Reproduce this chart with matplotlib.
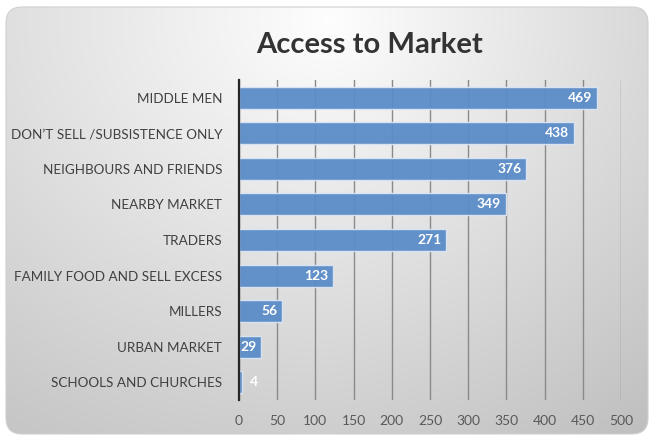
import numpy as np
import matplotlib.pyplot as plt
from matplotlib.patches import FancyBboxPatch

categories = [
    "MIDDLE MEN",
    "DON\u2019T SELL /SUBSISTENCE ONLY",
    "NEIGHBOURS AND FRIENDS",
    "NEARBY MARKET",
    "TRADERS",
    "FAMILY FOOD AND SELL EXCESS",
    "MILLERS",
    "URBAN MARKET",
    "SCHOOLS AND CHURCHES",
]
values = [469, 438, 376, 349, 271, 123, 56, 29, 4]
x_ticks = [0, 50, 100, 150, 200, 250, 300, 350, 400, 450, 500]
title = "Access to Market"

plt.rcParams['font.family'] = ['Lato', 'DejaVu Sans']

fig = plt.figure(figsize=(6.5, 4.38), dpi=100)
fig.patch.set_facecolor('white')

# Rounded panel: lightest near the top centre, darkening toward the edges
bg = fig.add_axes([0, 0, 1, 1], zorder=0)
bg.set_xlim(0, 650)
bg.set_ylim(438, 0)
bg.axis('off')
yy, xx = np.mgrid[0:438, 0:650]
dx = (xx - 330) / 650.0
dy = (yy - 20) / 438.0
d = np.sqrt((dx * 1.1) ** 2 + (dy * 0.9) ** 2) + 0.25 * np.clip(dx, 0, None)
grad = np.clip(0.995 - 0.22 * d, 0.74, 1.0)
img = np.dstack([grad, grad, grad])
panel = FancyBboxPatch((6, 7), 642, 427, boxstyle="round,pad=0,rounding_size=16",
                       facecolor='none', edgecolor='#d0d0d0', linewidth=0.8,
                       transform=bg.transData)
bg.add_patch(panel)
im = bg.imshow(img, extent=(0, 650, 438, 0), aspect='auto', zorder=0)
im.set_clip_path(panel)

ax = fig.add_axes([239 / 650, 1 - 400 / 438, (621 - 239) / 650, (400 - 80) / 438], zorder=1)
ax.patch.set_alpha(0)

y = np.arange(len(categories))
ax.barh(y, values, height=0.62, color='#5b8cc8', edgecolor='#dbe6f3',
        linewidth=1.0, alpha=0.95, zorder=3)
ax.set_ylim(len(categories) - 0.5, -0.5)
ax.set_xlim(0, 500)
ax.set_xticks(x_ticks)
ax.set_yticks(y)
ax.set_yticklabels(categories, fontsize=9.7, color='#404040')
ax.tick_params(axis='y', length=0, pad=12)
ax.tick_params(axis='x', length=0, pad=11, labelsize=10, labelcolor='#595959')

ax.grid(axis='x', color='#8a8a8a', linewidth=1.0, zorder=1)
ax.set_axisbelow(True)
for s in ['top', 'right', 'bottom']:
    ax.spines[s].set_visible(False)
ax.spines['left'].set_color('#262626')
ax.spines['left'].set_linewidth(1.6)
ax.spines['left'].set_zorder(4)

for yi, v in zip(y, values):
    if v >= 20:
        ax.text(v - 6, yi, str(v), ha='right', va='center', color='white',
                fontsize=10, fontweight='bold', zorder=5)
    else:
        ax.text(v + 10, yi, str(v), ha='left', va='center', color='white',
                fontsize=10, fontweight='bold', zorder=5)

fig.text(370 / 650, 1 - 45 / 438, title, ha='center', va='center',
         fontsize=21, fontweight='bold', color='#333333')

fig.savefig('out.png', dpi=100)
